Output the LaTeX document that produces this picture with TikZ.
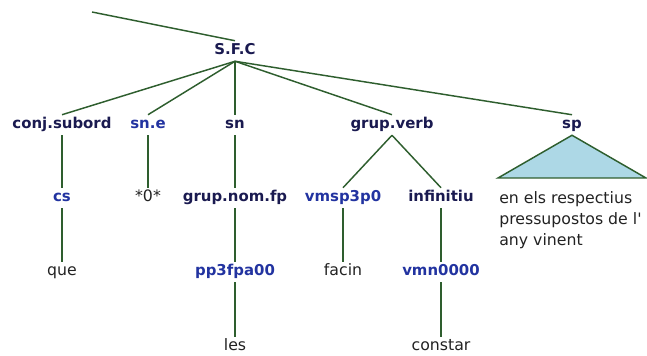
\documentclass[tikz,border=0pt]{standalone}
\usepackage{fontspec}
\newfontfamily\treefont{DejaVu Sans}
\definecolor{catnavy}{HTML}{1A1A50}
\definecolor{tagblue}{HTML}{2233A0}
\definecolor{wordgray}{HTML}{222222}
\definecolor{branchgreen}{HTML}{2E5E2E}
\definecolor{spfill}{HTML}{ADD8E6}

\begin{document}
\begin{tikzpicture}[x=0.75pt,y=-0.75pt,
  every node/.style={inner sep=2pt,text height=8.5pt,text depth=2.5pt},
  cat/.style={font=\treefont\bfseries\fontsize{11.2}{13}\selectfont,text=catnavy},
  tag/.style={font=\treefont\bfseries\fontsize{11.2}{13}\selectfont,text=tagblue},
  word/.style={font=\treefont\fontsize{11.8}{14}\selectfont,text=wordgray},
  branch/.style={draw=branchgreen,line width=1.1pt}]
  \useasboundingbox (0,0) rectangle (647,356);
  %--- row heights
  \def\ya{125}\def\yb{198}\def\yc{272}\def\yd{347}

  %==================== root ====================
  \coordinate (up) at (92,12);
  \node[cat] (sfc) at (235,51) {S.F.C};
  \draw[branch] (up) -- (sfc.north);

  %==================== first level ====================
  \node[cat] (conj)  at (62,\ya)  {conj.subord};
  \node[tag] (sne)   at (148,\ya) {sn.e};
  \node[cat] (sn)    at (235,\ya) {sn};
  \node[cat] (gverb) at (392,\ya) {grup.verb};
  \node[cat] (sp)    at (572,\ya) {sp};
  \foreach \c in {conj,sne,sn,gverb,sp}
    \draw[branch] (sfc.south) -- (\c.north);

  %==================== second level ====================
  \node[tag]  (cs)   at (62,\yb)  {cs};
  \node[word] (zero) at (148,\yb) {*0*};
  \node[cat]  (gnom) at (235,\yb) {grup.nom.fp};
  \node[tag]  (vmsp) at (343,\yb) {vmsp3p0};
  \node[cat]  (inf)  at (441,\yb) {infinitiu};
  \draw[branch] (conj) -- (cs);
  \draw[branch] (sne) -- (zero);
  \draw[branch] (sn) -- (gnom);
  \draw[branch] (gverb.south) -- (vmsp.north);
  \draw[branch] (gverb.south) -- (inf.north);

  % sp is not expanded: triangle over the words
  \coordinate (spL) at (498,178);
  \coordinate (spR) at (646,178);
  \draw[branch,fill=spfill] (sp.south) -- (spL) -- (spR) -- cycle;
  \node[word,anchor=north west,align=left,inner sep=0pt,text height=,text depth=,
    font=\treefont\fontsize{11.8}{15.8}\selectfont] (spwords) at (499,191)
    {en els respectius\\pressupostos de l'\\any vinent};

  %==================== third level ====================
  \node[word] (que)   at (62,\yc)  {que};
  \node[tag]  (pp3)   at (235,\yc) {pp3fpa00};
  \node[word] (facin) at (343,\yc) {facin};
  \node[tag]  (vmn)   at (441,\yc) {vmn0000};
  \draw[branch] (cs) -- (que);
  \draw[branch] (gnom) -- (pp3);
  \draw[branch] (vmsp) -- (facin);
  \draw[branch] (inf) -- (vmn);

  %==================== words ====================
  \node[word] (les)     at (235,\yd) {les};
  \node[word] (constar) at (441,\yd) {constar};
  \draw[branch] (pp3) -- (les);
  \draw[branch] (vmn) -- (constar);

\end{tikzpicture}
\end{document}
